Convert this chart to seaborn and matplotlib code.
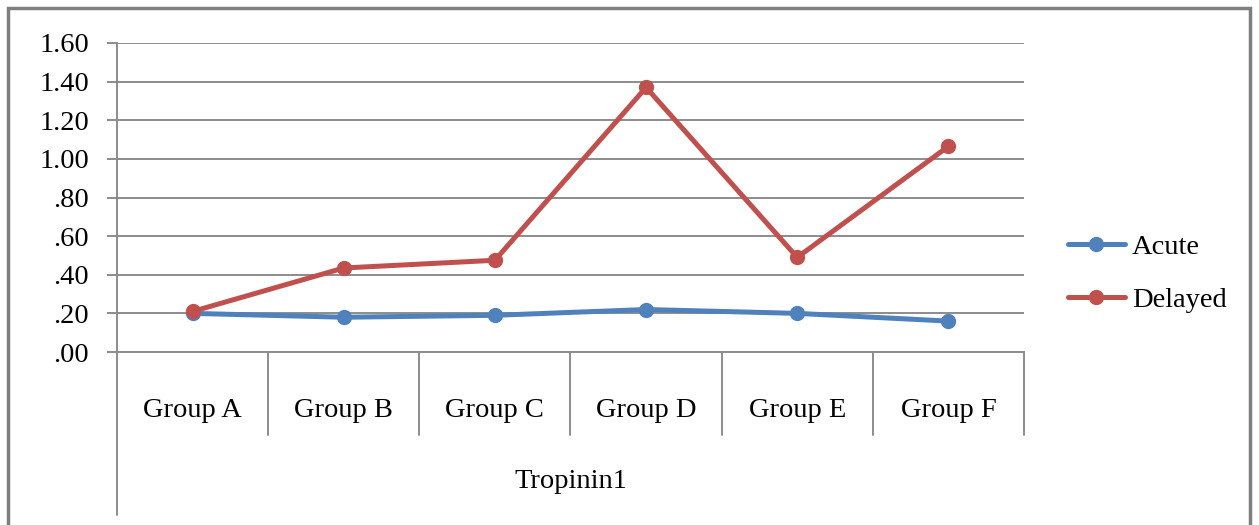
import pandas as pd
import seaborn as sns
import matplotlib.pyplot as plt
from matplotlib.patches import Rectangle
from matplotlib.ticker import FuncFormatter
import matplotlib.transforms as mtransforms

# data
groups = ["Group A", "Group B", "Group C", "Group D", "Group E", "Group F"]
acute = [0.20, 0.18, 0.19, 0.22, 0.20, 0.16]
delayed = [0.21, 0.435, 0.475, 1.37, 0.49, 1.065]
series_names = ["Acute", "Delayed"]
y_ticks = [0.0, 0.2, 0.4, 0.6, 0.8, 1.0, 1.2, 1.4, 1.6]
axis_title = "Tropinin1"


def build_frame():
    rows = []
    for name, values in zip(series_names, [acute, delayed]):
        for g, v in zip(groups, values):
            rows.append({"group": g, "value": v, "series": name})
    return pd.DataFrame(rows)


def fmt(v, pos):
    s = "%.2f" % v
    if s.startswith("0"):
        s = s[1:]
    return s


def visualize(data):
    sns.set_style("white")
    plt.rcParams["font.family"] = ["Liberation Serif", "DejaVu Serif"]
    plt.rcParams["text.color"] = "black"
    plt.rcParams["xtick.color"] = "black"
    plt.rcParams["ytick.color"] = "black"
    grey = "#8c8c8c"
    fsize = 20.5

    fig = plt.figure(figsize=(12.59, 5.25), dpi=100)
    ax = fig.add_axes([117 / 1259, 1 - 352 / 525, 907 / 1259, 309 / 525])

    palette = {"Acute": "#4f81bd", "Delayed": "#c0504d"}
    sns.lineplot(data=data, x="group", y="value", hue="series",
                 palette=palette, marker="o", markersize=11,
                 markeredgewidth=0, linewidth=3.6, ax=ax, sort=False)

    ax.set_xlim(-0.5, len(groups) - 0.5)
    ax.set_ylim(0, 1.6)
    ax.set_yticks(y_ticks)
    ax.yaxis.set_major_formatter(FuncFormatter(fmt))
    ax.grid(axis="y", color=grey, linewidth=1.4)
    ax.set_axisbelow(True)
    ax.tick_params(axis="y", length=7, width=1.4, color=grey,
                   labelsize=fsize, labelcolor="black", pad=13, left=True)
    ax.tick_params(axis="x", length=0, labelsize=fsize, labelcolor="black",
                   pad=33)
    ax.set_xlabel("")
    ax.set_ylabel("")

    for side in ["top", "right"]:
        ax.spines[side].set_visible(False)
    for side in ["left", "bottom"]:
        ax.spines[side].set_color(grey)
        ax.spines[side].set_linewidth(1.4)

    # category separators below the axis
    trans = mtransforms.blended_transform_factory(ax.transData, ax.transAxes)
    for i in range(len(groups) + 1):
        x = i - 0.5
        low = -0.527 if i == 0 else -0.269
        ax.plot([x, x], [0, low], color=grey, linewidth=1.4,
                transform=trans, clip_on=False)

    ax.text(0.5, -0.42, axis_title, transform=ax.transAxes,
            ha="center", va="center", fontsize=fsize)

    leg = ax.legend(loc="center left", bbox_to_anchor=(1.02, 0.255),
                    frameon=False, fontsize=fsize, handlelength=2.0,
                    labelspacing=0.95, handletextpad=0.25)
    leg.set_title(None)

    # outer chart frame
    fig.patches.append(Rectangle((8 / 1259, -0.05), 1242 / 1259, 1.035,
                                 transform=fig.transFigure, fill=False,
                                 edgecolor="#7f7f7f", linewidth=2.5))

    fig.savefig("out.png", dpi=100)


def main():
    data = build_frame()
    visualize(data)


if __name__ == "__main__":
    main()
